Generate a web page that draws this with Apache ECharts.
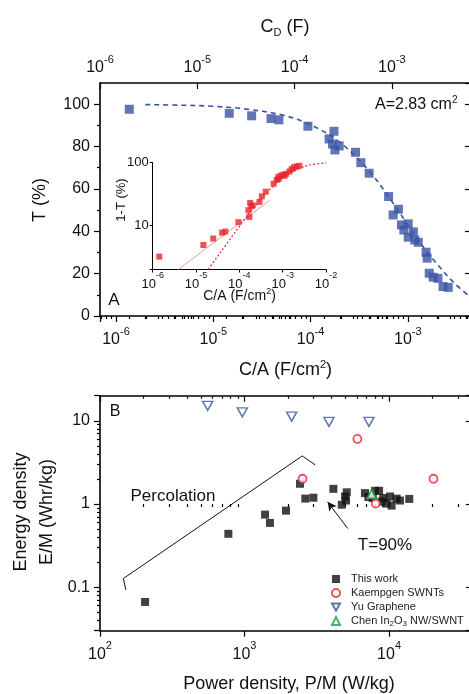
<!DOCTYPE html>
<html><head><meta charset="utf-8">
<script src="https://cdn.jsdelivr.net/npm/echarts@6/dist/echarts.min.js"></script>
<style>html,body{margin:0;padding:0;background:#fff}#c{width:469px;height:694px}</style>
</head><body><div id="c"></div>
<script>
// ---------- Panel A: transmittance vs capacitance per area ----------
const mainCA = [1.37e-6, 1.46e-5, 2.48e-5, 3.92e-5, 4.73e-5, 9.4e-5, 1.74e-4, 1.55e-4, 1.68e-4, 1.78e-4, 1.97e-4, 2.9e-4, 3.29e-4, 4.0e-4, 6.34e-4, 8.0e-4, 7.06e-4, 8.6e-4, 1.01e-3, 9.1e-4, 1.14e-3, 1.01e-3, 1.18e-3, 1.28e-3, 1.54e-3, 1.58e-3, 1.66e-3, 1.82e-3, 2.04e-3, 2.3e-3, 2.6e-3];
const mainT  = [97.6, 95.7, 94.5, 93.2, 92.6, 89.6, 87.2, 83.6, 81.2, 78.4, 80.3, 77.3, 72.4, 67.4, 56.4, 50.4, 47.7, 43.0, 43.5, 40.6, 39.7, 37.2, 35.9, 34.8, 30.1, 27.3, 20.2, 18.3, 17.8, 13.9, 13.5];
const fitCA = [2e-6, 5e-6, 1e-5, 2e-5, 5e-5, 1e-4, 2e-4, 4e-4, 7e-4, 1e-3, 1.5e-3, 2e-3, 3e-3, 4.4e-3];
const fitT  = [99.8, 99.5, 99.0, 97.9, 95.0, 90.3, 82.0, 68.5, 53.5, 43.0, 31.5, 24.5, 15.5, 9.0];
const yTicksA = [0, 20, 40, 60, 80, 100];
const yMinorA = [10, 30, 50, 70, 90];
const caRange = [6.85e-7, 4.46e-3];
const cdRange = [1e-6, 6.5e-3];

// inset: 1-T vs C/A
const insetCA = [1.42e-6, 1.48e-5, 2.5e-5, 4.0e-5, 4.75e-5, 9.5e-5, 1.62e-4, 1.7e-4, 1.77e-4, 1.89e-4, 2.04e-4, 2.9e-4, 3.3e-4, 4.07e-4, 6.2e-4, 7.3e-4, 7.95e-4, 8.1e-4, 9.0e-4, 1.04e-3, 1.1e-3, 1.2e-3, 1.43e-3, 1.62e-3, 1.83e-3, 2.1e-3, 2.43e-3];
const insetOneMinusT = [3.2, 4.9, 6.2, 7.7, 8.0, 11.3, 17.5, 13.7, 22.8, 20.2, 20.9, 23.7, 29, 34.4, 46, 53, 59, 54.7, 62, 64, 61.6, 66, 72, 78.5, 84, 86.5, 88.7];
const powerLawCA = [3.9e-6, 5e-4];
const powerLawY  = [2, 25];
const insetFitCA = [1.92e-5, 3e-5, 5e-5, 1e-4, 2e-4, 4e-4, 7e-4, 1e-3, 2e-3, 4e-3, 1e-2];
const insetFitY  = [2.0, 3.1, 5.0, 9.7, 18, 31.5, 46.5, 57, 75.5, 90.5, 98.4];
const insetXRange = [1e-6, 1e-2];
const insetYRange = [2, 100];

// ---------- Panel B: Ragone plot ----------
const thisWorkP = [205, 773, 1387, 1500, 1936, 2420, 2635, 2995, 4120, 4710, 4960, 5100, 5040, 6820, 7190, 8000, 8530, 7720, 9120, 9620, 10150, 10420, 11290, 11900, 13800, 8870];
const thisWorkE = [0.0665, 0.438, 0.745, 0.592, 0.832, 1.75, 1.16, 1.19, 1.52, 0.98, 1.23, 1.38, 1.10, 1.35, 1.21, 1.44, 1.44, 1.18, 1.18, 1.01, 1.23, 0.955, 1.16, 1.10, 1.15, 1.07];
const kaempgenP = [2520, 6040, 8090, 20300];
const kaempgenE = [2.01, 6.04, 1.01, 2.01];
const yuP = [556, 966, 2120, 3840, 7260];
const yuE = [15.1, 12.6, 11.2, 9.7, 9.7];
const chenP = [7570];
const chenE = [1.32];
const percolationP = [151, 145, 2510, 3080];
const percolationE = [0.093, 0.127, 3.78, 2.95];
const arrowP = [5180, 3760];
const arrowE = [0.506, 1.06];
const pRange = [100, 3.75e4];
const eRange = [0.03, 20];
const seriesNames = ['This work', 'Kaempgen SWNTs', 'Yu Graphene', 'Chen In2O3 NW/SWNT'];

// ---------- helpers ----------
const FONT = 'Liberation Sans, Arial, Helvetica, sans-serif';
const zip = (a, b) => a.map((v, i) => [v, b[i]]);
const lg = Math.log10;
function minorLogs(range) {
  const out = [];
  const lo = Math.floor(lg(range[0])), hi = Math.ceil(lg(range[1]));
  for (let e = lo; e <= hi; e++) for (let k = 2; k <= 9; k++) {
    const v = lg(k) + e;
    if (v > lg(range[0]) + 1e-6 && v < lg(range[1]) - 1e-6) out.push(v);
  }
  return out;
}
function isDecade(v) { const e = lg(v); return Math.abs(e - Math.round(e)) < 0.01; }
function powLabel(v) { if (!isDecade(v)) return ''; return '{b|10}{s|' + Math.round(lg(v)) + '}'; }
function powRich(fs, ss) {
  return { b: { fontSize: fs, fontFamily: FONT, color: '#111', lineHeight: fs + 6, verticalAlign: 'bottom' },
           s: { fontSize: ss, fontFamily: FONT, color: '#111', lineHeight: ss + 1, verticalAlign: 'top' } };
}
function decLabel(v) { if (!isDecade(v)) return ''; const e = Math.round(lg(v)); return e < 0 ? (1 / Math.pow(10, -e)).toString() : String(Math.pow(10, e)); }

const AX = { color: '#000', width: 1.6 };
const TK = { color: '#000', width: 1.2 };
function hiddenAxisBase() {
  return { axisLine: { show: false }, axisLabel: { show: false }, splitLine: { show: false } };
}

const xAxis = [
  { type: 'log', gridIndex: 0, position: 'bottom', min: caRange[0], max: caRange[1], logBase: 10,
    axisLine: { onZero: false, lineStyle: AX }, axisTick: { length: 6, lineStyle: TK },
    axisLabel: { formatter: powLabel, rich: powRich(16, 11), margin: 10 }, splitLine: { show: false } },
  { type: 'log', gridIndex: 0, position: 'top', min: cdRange[0], max: cdRange[1], logBase: 10,
    axisLine: { onZero: false, lineStyle: AX }, axisTick: { inside: true, length: 6, lineStyle: TK },
    axisLabel: { formatter: powLabel, rich: powRich(16, 11), margin: 7 }, splitLine: { show: false } },
  Object.assign(hiddenAxisBase(), { type: 'value', gridIndex: 0, position: 'bottom', min: lg(caRange[0]), max: lg(caRange[1]),
    axisTick: { show: true, length: 3, lineStyle: TK, customValues: minorLogs(caRange) } }),
  Object.assign(hiddenAxisBase(), { type: 'value', gridIndex: 0, position: 'top', min: lg(cdRange[0]), max: lg(cdRange[1]),
    axisTick: { show: true, inside: true, length: 3, lineStyle: TK, customValues: minorLogs(cdRange) } }),
  { type: 'log', gridIndex: 1, position: 'bottom', min: insetXRange[0], max: insetXRange[1], logBase: 10,
    axisLine: { onZero: false, lineStyle: { color: '#000', width: 1 } }, axisTick: { length: 3, lineStyle: { color: '#000', width: 1 } },
    axisLabel: { formatter: powLabel, rich: powRich(13, 9), margin: 2 }, splitLine: { show: false } },
  { type: 'log', gridIndex: 2, position: 'bottom', min: pRange[0], max: pRange[1], logBase: 10,
    axisLine: { onZero: false, lineStyle: AX }, axisTick: { length: 6, lineStyle: TK },
    axisLabel: { formatter: powLabel, rich: powRich(16, 11), margin: 10 }, splitLine: { show: false } },
  { type: 'log', gridIndex: 2, position: 'top', min: pRange[0], max: pRange[1], logBase: 10,
    axisLine: { onZero: false, lineStyle: AX }, axisTick: { inside: true, length: 6, lineStyle: TK },
    axisLabel: { show: false }, splitLine: { show: false } },
  Object.assign(hiddenAxisBase(), { type: 'value', gridIndex: 2, position: 'bottom', min: lg(pRange[0]), max: lg(pRange[1]),
    axisTick: { show: true, length: 3, lineStyle: TK, customValues: minorLogs(pRange) } }),
  Object.assign(hiddenAxisBase(), { type: 'value', gridIndex: 2, position: 'top', min: lg(pRange[0]), max: lg(pRange[1]),
    axisTick: { show: true, inside: true, length: 3, lineStyle: TK, customValues: minorLogs(pRange) } })
];

const yAxis = [
  { type: 'value', gridIndex: 0, position: 'left', min: 0, max: 110, interval: 20,
    axisLine: { onZero: false, lineStyle: AX }, axisTick: { length: 6, lineStyle: TK },
    axisLabel: { showMaxLabel: false, formatter: v => (yTicksA.indexOf(v) >= 0 ? String(v) : ''), fontSize: 16, fontFamily: FONT, color: '#111', margin: 10 },
    splitLine: { show: false } },
  { type: 'value', gridIndex: 0, position: 'right', min: 0, max: 110, interval: 20,
    axisLine: { onZero: false, lineStyle: AX }, axisTick: { inside: true, length: 6, lineStyle: TK },
    axisLabel: { show: false }, splitLine: { show: false } },
  Object.assign(hiddenAxisBase(), { type: 'value', gridIndex: 0, position: 'left', min: 0, max: 110,
    axisTick: { show: true, length: 3, lineStyle: TK, customValues: yMinorA } }),
  { type: 'log', gridIndex: 1, position: 'left', min: insetYRange[0], max: insetYRange[1], logBase: 10,
    axisLine: { onZero: false, lineStyle: { color: '#000', width: 1 } }, axisTick: { length: 3, lineStyle: { color: '#000', width: 1 } },
    axisLabel: { formatter: decLabel, fontSize: 13, fontFamily: FONT, color: '#111', margin: 4 }, splitLine: { show: false } },
  { type: 'log', gridIndex: 2, position: 'left', min: eRange[0], max: eRange[1], logBase: 10,
    axisLine: { onZero: false, lineStyle: AX }, axisTick: { length: 6, lineStyle: TK },
    axisLabel: { formatter: decLabel, fontSize: 16, fontFamily: FONT, color: '#111', margin: 10 }, splitLine: { show: false } },
  { type: 'log', gridIndex: 2, position: 'right', min: eRange[0], max: eRange[1], logBase: 10,
    axisLine: { onZero: false, lineStyle: AX }, axisTick: { inside: true, length: 6, lineStyle: TK },
    axisLabel: { show: false }, splitLine: { show: false } },
  Object.assign(hiddenAxisBase(), { type: 'value', gridIndex: 2, position: 'left', min: lg(eRange[0]), max: lg(eRange[1]),
    axisTick: { show: true, length: 3, lineStyle: TK, customValues: minorLogs(eRange) } })
];

const BLUE = '#3954a5', RED = '#e8262b', GREEN = '#16a04a';
const DOWN_TRI = 'path://M0,0L10,0L5,9Z';

const series = [
  { type: 'scatter', name: 'mainA', xAxisIndex: 0, yAxisIndex: 0, symbol: 'rect', symbolSize: 9,
    itemStyle: { color: BLUE }, data: zip(mainCA, mainT), z: 3 },
  { type: 'line', name: 'fitA', xAxisIndex: 0, yAxisIndex: 0, smooth: 0.35, showSymbol: false, symbol: 'none',
    lineStyle: { color: BLUE, width: 1.6, type: [5, 4] }, data: zip(fitCA, fitT), z: 2 },
  { type: 'line', name: 'powerLaw', xAxisIndex: 4, yAxisIndex: 3, showSymbol: false, symbol: 'none',
    lineStyle: { color: '#f19a8a', width: 1 }, data: zip(powerLawCA, powerLawY) },
  { type: 'line', name: 'insetFit', xAxisIndex: 4, yAxisIndex: 3, smooth: 0.35, showSymbol: false, symbol: 'none',
    lineStyle: { color: RED, width: 1.2, type: [2, 2] }, data: zip(insetFitCA, insetFitY) },
  { type: 'scatter', name: 'insetData', xAxisIndex: 4, yAxisIndex: 3, symbol: 'rect', symbolSize: 6,
    itemStyle: { color: RED }, data: zip(insetCA, insetOneMinusT), z: 3 },
  { type: 'line', name: 'percolation', xAxisIndex: 5, yAxisIndex: 4, showSymbol: false, symbol: 'none',
    lineStyle: { color: '#111', width: 1 }, data: zip(percolationP, percolationE),
    markLine: { silent: true, symbol: ['none', 'arrow'], symbolSize: [7, 9], label: { show: false },
      lineStyle: { color: '#111', width: 1, type: 'solid' },
      data: [[{ coord: [arrowP[0], arrowE[0]] }, { coord: [arrowP[1], arrowE[1]] }]] } },
  { type: 'scatter', name: seriesNames[0], xAxisIndex: 5, yAxisIndex: 4, symbol: 'rect', symbolSize: 8,
    itemStyle: { color: '#111' }, data: zip(thisWorkP, thisWorkE), z: 3 },
  { type: 'scatter', name: seriesNames[1], xAxisIndex: 5, yAxisIndex: 4, symbol: 'circle', symbolSize: 8,
    itemStyle: { color: '#fff', borderColor: RED, borderWidth: 1.8 }, data: zip(kaempgenP, kaempgenE), z: 4 },
  { type: 'scatter', name: seriesNames[2], xAxisIndex: 5, yAxisIndex: 4, symbol: DOWN_TRI, symbolSize: [10, 9],
    itemStyle: { color: '#fff', borderColor: BLUE, borderWidth: 1.5 }, data: zip(yuP, yuE), z: 4 },
  { type: 'scatter', name: seriesNames[3], xAxisIndex: 5, yAxisIndex: 4, symbol: 'triangle', symbolSize: 9,
    itemStyle: { color: '#fff', borderColor: GREEN, borderWidth: 1.8 }, data: zip(chenP, chenE), z: 5 }
];

function txt(text, x, y, fs, opt) {
  opt = opt || {};
  return { type: 'text', x: x, y: y, rotation: opt.rot || 0, z: 10,
    style: { text: text, fontSize: fs, fontFamily: FONT, fill: '#111', align: opt.align || 'center', verticalAlign: 'middle',
      lineHeight: fs + 4, rich: opt.rich || {} } };
}
const supRich = fs => ({ s: { fontSize: Math.round(fs * 0.62), fontFamily: FONT, fill: '#111', color: '#111', lineHeight: Math.round(fs * 0.62) + 1, verticalAlign: 'top' } });
const subRich = fs => ({ d: { fontSize: Math.round(fs * 0.62), fontFamily: FONT, fill: '#111', color: '#111', lineHeight: Math.round(fs * 0.62) + 1, verticalAlign: 'bottom' } });

const graphic = [
  txt('C{d|D} (F)', 285, 27, 18, { rich: subRich(18) }),
  txt('T (%)', 40, 200, 18, { rot: Math.PI / 2 }),
  txt('A=2.83 cm{s|2}', 375, 105, 16, { align: 'left', rich: supRich(16) }),
  txt('A', 114, 300, 17),
  txt('1-T (%)', 121, 200, 13, { rot: Math.PI / 2 }),
  txt('C/A (F/cm{s|2})', 239.5, 296, 14, { rich: supRich(14) }),
  txt('C/A (F/cm{s|2})', 285.5, 370, 18, { rich: supRich(18) }),
  txt('B', 115, 412, 16),
  txt('Percolation', 173, 496, 17),
  txt('T=90%', 385, 545, 17),
  txt('Energy density', 21, 512, 18, { rot: Math.PI / 2 }),
  txt('E/M (Whr/kg)', 47, 512, 18, { rot: Math.PI / 2 }),
  txt('Power density, P/M (W/kg)', 289, 684, 18)
];

const chart = echarts.init(document.getElementById('c'), null, { renderer: 'canvas' });
chart.setOption({
  animation: false,
  backgroundColor: '#fff',
  textStyle: { fontFamily: FONT },
  grid: [
    { left: 100, top: 83, width: 371, height: 233, outerBoundsMode: 'none', containLabel: false },
    { left: 152.7, top: 162.5, width: 173.3, height: 107, outerBoundsMode: 'none', containLabel: false },
    { left: 100, top: 395.7, width: 372, height: 235, outerBoundsMode: 'none', containLabel: false }
  ],
  xAxis: xAxis,
  yAxis: yAxis,
  legend: {
    data: [
      { name: seriesNames[0], icon: 'rect' },
      { name: seriesNames[1], icon: 'circle' },
      { name: seriesNames[2], icon: DOWN_TRI },
      { name: seriesNames[3], icon: 'triangle' }
    ],
    orient: 'vertical', left: 326, top: 567, itemWidth: 8, itemHeight: 8, itemGap: 0,
    textStyle: { fontSize: 11, fontFamily: FONT, color: '#222', padding: [0, 0, 0, 6], lineHeight: 14,
      rich: { sub: { fontSize: 8, fontFamily: FONT, color: '#222', verticalAlign: 'bottom', lineHeight: 8 } } },
    formatter: name => name === 'Chen In2O3 NW/SWNT' ? 'Chen In{sub|2}O{sub|3} NW/SWNT' : name
  },
  series: series,
  graphic: graphic
});
</script></body></html>
